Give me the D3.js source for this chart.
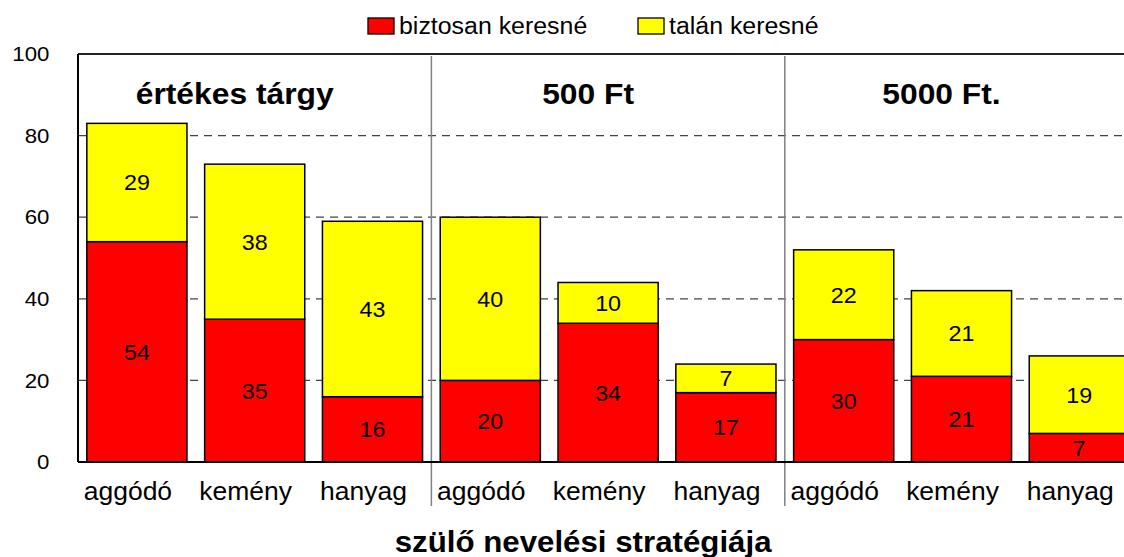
<!DOCTYPE html>
<html>
<head>
<meta charset="utf-8">
<script src="https://cdn.jsdelivr.net/npm/d3@7"></script>
<style>
  body { margin: 0; background: #fff; }
  svg { display: block; font-family: Arial, "Liberation Sans", sans-serif; }
</style>
</head>
<body>
<div id="chart"></div>
<script>
// Data
const groups = ["értékes tárgy", "500 Ft", "5000 Ft."];
const strategies = ["aggódó", "kemény", "hanyag"];
const seriesNames = ["biztosan keresné", "talán keresné"];
const biztosan = [54, 35, 16, 20, 34, 17, 30, 21, 7];
const talan = [29, 38, 43, 40, 10, 7, 22, 21, 19];
const yTicks = [0, 20, 40, 60, 80, 100];
const axisTitle = "szülő nevelési stratégiája";

const colors = ["#ff0000", "#ffff00"];
const SX = 1.06; // text is a bit wider than tall in the reference

const width = 1124, height = 557;
const margin = { left: 78, top: 54 };
const plotH = 408;
const slotW = 117.8;

// rows, one per bar
const rows = [];
groups.forEach((g, gi) => strategies.forEach((s, si) => {
    const i = gi * strategies.length + si;
    rows.push({ i, group: g, cat: s, b: biztosan[i], t: talan[i] });
}));

const svg = d3.select("#chart").append("svg")
    .attr("width", width)
    .attr("height", height);

const x = d3.scaleBand()
    .domain(rows.map(d => d.i))
    .range([margin.left, margin.left + slotW * rows.length])
    .paddingInner(0.15)
    .paddingOuter(0.075);

const y = d3.scaleLinear()
    .domain([0, 100])
    .range([margin.top + plotH, margin.top]);

const stack = d3.stack().keys(["b", "t"]);
const stacked = stack(rows);

// Gridlines
svg.append("g")
    .selectAll("line")
    .data(yTicks.filter(v => v > 0 && v < 100))
    .enter().append("line")
    .attr("x1", margin.left).attr("x2", width)
    .attr("y1", d => y(d)).attr("y2", d => y(d))
    .attr("stroke", "#444")
    .attr("stroke-width", 1.3)
    .attr("stroke-dasharray", "8,6");

// Group dividers
svg.append("g")
    .selectAll("line")
    .data(d3.range(1, groups.length))
    .enter().append("line")
    .attr("x1", d => margin.left + d * strategies.length * x.step())
    .attr("x2", d => margin.left + d * strategies.length * x.step())
    .attr("y1", margin.top + 2)
    .attr("y2", margin.top + plotH + 44)
    .attr("stroke", "#808080")
    .attr("stroke-width", 1.5);

// Bars
const layer = svg.append("g")
    .selectAll("g")
    .data(stacked)
    .enter().append("g")
    .attr("fill", (d, k) => colors[k]);

layer.selectAll("rect")
    .data(d => d)
    .enter().append("rect")
    .attr("x", d => x(d.data.i))
    .attr("width", x.bandwidth())
    .attr("y", d => y(d[1]))
    .attr("height", d => y(d[0]) - y(d[1]))
    .attr("stroke", "#000")
    .attr("stroke-width", 1.5);

// Value labels
layer.selectAll("text")
    .data(d => d)
    .enter().append("text")
    .attr("transform", d => `translate(${x(d.data.i) + x.bandwidth() / 2},${(y(d[0]) + y(d[1])) / 2}) scale(${SX},1)`)
    .attr("dy", "0.36em")
    .attr("text-anchor", "middle")
    .attr("fill", "#000")
    .style("font-size", "22px")
    .text(d => d[1] - d[0]);

// Frame: top border, left axis, bottom axis
svg.append("line")
    .attr("x1", margin.left).attr("x2", width)
    .attr("y1", y(100)).attr("y2", y(100))
    .attr("stroke", "#222").attr("stroke-width", 2);
svg.append("line")
    .attr("x1", margin.left).attr("x2", margin.left)
    .attr("y1", y(100)).attr("y2", y(0))
    .attr("stroke", "#000").attr("stroke-width", 2);
svg.append("line")
    .attr("x1", margin.left).attr("x2", width)
    .attr("y1", y(0)).attr("y2", y(0))
    .attr("stroke", "#000").attr("stroke-width", 2);

// Y axis labels
const yAxis = svg.append("g")
    .attr("transform", `translate(${margin.left},0)`)
    .call(d3.axisLeft(y).tickValues(yTicks).tickSize(0).tickPadding(27));
yAxis.select(".domain").remove();
yAxis.selectAll("text")
    .attr("transform", `scale(${SX},1)`)
    .attr("fill", "#000")
    .style("font-size", "21px")
    .style("font-family", "Arial, 'Liberation Sans', sans-serif");

// Category labels
svg.append("g")
    .selectAll("text")
    .data(rows)
    .enter().append("text")
    .attr("transform", d => `translate(${x(d.i) + x.bandwidth() / 2 - 9},${y(0) + 38}) scale(${SX},1)`)
    .attr("text-anchor", "middle")
    .style("font-size", "25px")
    .text(d => d.cat);

// Group titles
svg.append("g")
    .selectAll("text")
    .data(groups)
    .enter().append("text")
    .attr("transform", (d, gi) => {
        const cx = margin.left + (gi + 0.5) * strategies.length * x.step() - 20;
        return `translate(${cx},${margin.top + 50}) scale(${SX},1)`;
    })
    .attr("text-anchor", "middle")
    .style("font-size", "30px")
    .style("font-weight", "bold")
    .text(d => d);

// Axis title
svg.append("text")
    .attr("transform", `translate(${(margin.left + x.range()[1]) / 2 - 25},${height - 5}) scale(${SX},1)`)
    .attr("text-anchor", "middle")
    .style("font-size", "29.5px")
    .style("font-weight", "bold")
    .text(axisTitle);

// Legend
const legendX = [368, 638];
const legend = svg.append("g")
    .selectAll("g")
    .data(seriesNames)
    .enter().append("g")
    .attr("transform", (d, k) => `translate(${legendX[k]},18)`);
legend.append("rect")
    .attr("width", 26).attr("height", 16)
    .attr("fill", (d, k) => colors[k])
    .attr("stroke", "#000").attr("stroke-width", 1.3);
legend.append("text")
    .attr("transform", `translate(31,16) scale(${SX},1)`)
    .style("font-size", "23.5px")
    .text(d => d);
</script>
</body>
</html>
